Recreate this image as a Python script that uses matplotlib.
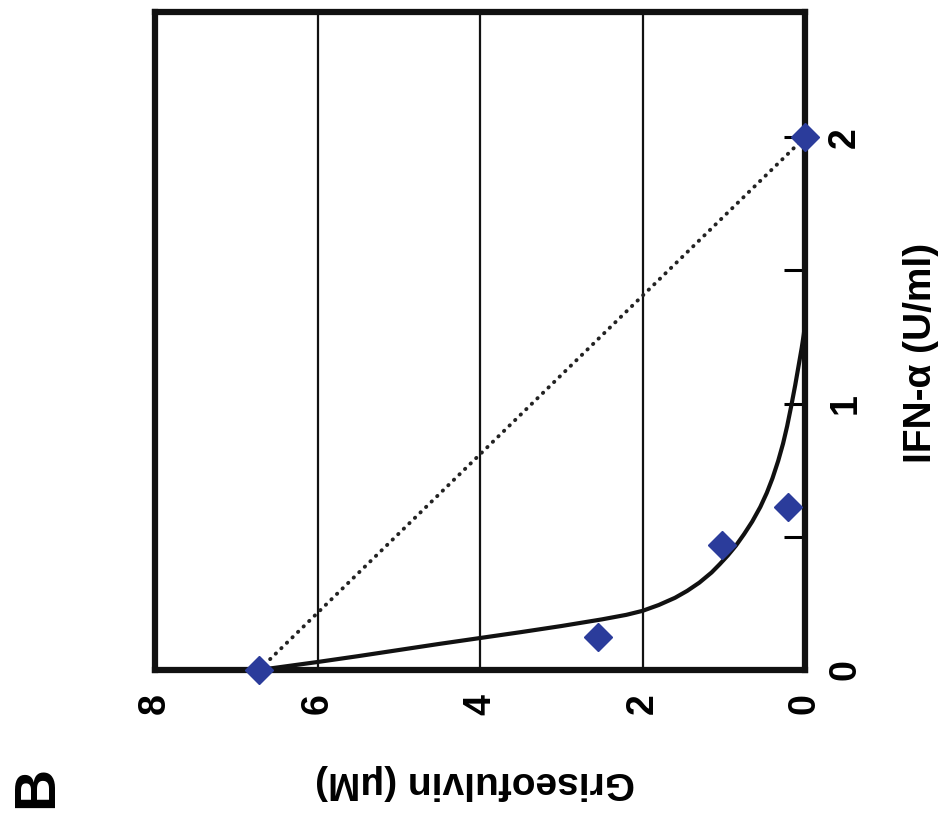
import matplotlib
matplotlib.use('Agg')
import matplotlib.pyplot as plt

plt.rcParams['font.family'] = ['Liberation Sans', 'DejaVu Sans']
plt.rcParams['font.weight'] = 'bold'

# isobologram, drawn rotated 90 deg counter-clockwise like the scanned figure
# measured points: griseofulvin (uM) vs IFN-alpha (U/ml)
gris_pts = [6.72, 2.55, 1.02, 0.21, 0.0]
ifn_pts = [0.0, 0.125, 0.47, 0.61, 2.0]

# fitted curve
gris_fit = [6.72, 6.0, 5.5, 5.0, 4.5, 4.0, 3.5, 3.0, 2.5, 2.2, 2.0,
            1.8, 1.6, 1.45, 1.3, 1.15, 1.05, 0.95, 0.85, 0.75, 0.65, 0.55,
            0.47, 0.4, 0.33, 0.27, 0.22, 0.17, 0.12, 0.08, 0.04, 0.015,
            0.0, 0.0]
ifn_fit = [0.0, 0.030, 0.052, 0.075, 0.098, 0.12, 0.142, 0.165, 0.19,
           0.207, 0.222, 0.244, 0.271, 0.297, 0.328, 0.366, 0.397, 0.43,
           0.467, 0.51, 0.557, 0.612, 0.665, 0.72, 0.785, 0.85, 0.915, 0.99,
           1.07, 1.14, 1.21, 1.26, 1.30, 2.0]

# additivity line
gris_add = [6.72, 0.0]
ifn_add = [0.0, 2.0]

gris_ticks = [0, 2, 4, 6, 8]
ifn_ticks = [0, 0.5, 1, 1.5, 2]
ifn_labels = ['0', '', '1', '', '2']

fig = plt.figure(figsize=(9.49, 8.19), dpi=100)
ax = fig.add_axes([155 / 949, 1 - 670 / 819, 650 / 949, 658 / 819])

ax.plot(gris_add, ifn_add, color='#222222', lw=2.8, linestyle=(0, (0.1, 1.9)),
        dash_capstyle='round', zorder=3)
ax.plot(gris_fit, ifn_fit, color='#111111', lw=3.0, zorder=4, clip_on=False,
        solid_joinstyle='round')
ax.plot(gris_pts, ifn_pts, 'D', color='#2b3c9b', markersize=14, zorder=5,
        clip_on=False)

ax.set_xlim(8, 0)
ax.set_ylim(0, 2.47)

ax.set_xticks(gris_ticks)
ax.set_xticklabels([str(t) for t in gris_ticks], rotation=90)
ax.tick_params(axis='x', length=0, pad=17, labelsize=27)
ax.grid(axis='x', color='#111111', lw=1.6)

ax.yaxis.tick_right()
ax.set_yticks(ifn_ticks)
ax.set_yticklabels(ifn_labels, rotation=90, va='center')
ax.tick_params(axis='y', direction='in', length=15, width=2.2, pad=16,
               labelsize=27)

for s in ax.spines.values():
    s.set_linewidth(4.5)
    s.set_color('#111111')

fig.text(475 / 949, 1 - 782 / 819, 'Griseofulvin (\u03bcM)', rotation=180,
         ha='center', va='center', fontsize=28, fontweight='bold')
fig.text(921 / 949, 1 - 353 / 819, 'IFN-\u03b1 (U/ml)', rotation=90,
         ha='center', va='center', fontsize=28, fontweight='bold')
fig.text(37 / 949, 1 - 787 / 819, 'B', rotation=90,
         ha='center', va='center', fontsize=42, fontweight='bold')

fig.savefig('out.png', dpi=100)
